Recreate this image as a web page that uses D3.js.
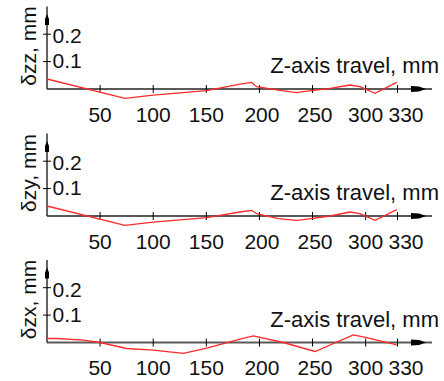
<!DOCTYPE html>
<html>
<head>
<meta charset="utf-8">
<script src="https://cdn.jsdelivr.net/npm/d3@7"></script>
<style>
  html, body { margin: 0; padding: 0; background: #fff; }
  svg { display: block; font-family: "Liberation Sans", Arial, sans-serif; }
</style>
</head>
<body>
<svg id="chart" width="444" height="381"></svg>
<script>
// Z-axis travel positions (mm) and straightness deviations (mm) for each direction
const zzTravel = [0, 73.4, 100, 150.4, 181.7, 192.7, 197.4, 217.8, 235.1, 241.3, 266.5, 285.3, 294.7, 308.8, 329.3];
const zzDev    = [0.0365, -0.034, -0.022, -0.006, 0.018, 0.024, 0.0085, -0.004, -0.013, -0.0097, 0.0024, 0.0146, 0.0085, -0.0158, 0.0243];

const zyTravel = [0, 73.4, 100, 150.4, 181.7, 192.7, 197.4, 217.8, 235.1, 241.3, 266.5, 285.3, 294.7, 308.8, 329.3];
const zyDev    = [0.0365, -0.034, -0.022, -0.006, 0.0146, 0.0207, 0.0085, -0.0097, -0.0158, -0.0134, 0, 0.0146, 0.0085, -0.0158, 0.023];

const zxTravel = [0, 9.1, 34.2, 49.9, 75, 100.1, 128.3, 150.4, 181.7, 194.2, 222.5, 252.3, 288.4, 301, 329.3];
const zxDev    = [0.0146, 0.0146, 0.0085, 0, -0.0219, -0.028, -0.040, -0.0207, 0.0122, 0.0243, 0, -0.0328, 0.028, 0.018, -0.0085];

const xTicks = [50, 100, 150, 200, 250, 300, 330];
const yTicks = [0.1, 0.2];
const yLabels = ["\u03b4zz, mm", "\u03b4zy, mm", "\u03b4zx, mm"];
const xTitle = "Z-axis travel, mm";

const panels = [
  { label: yLabels[0], travel: zzTravel, dev: zzDev, top: 0 },
  { label: yLabels[1], travel: zyTravel, dev: zyDev, top: 127 },
  { label: yLabels[2], travel: zxTravel, dev: zxDev, top: 253.5 }
];

const svg = d3.select("#chart");

const x = d3.scaleLinear().domain([0, 330]).range([47, 397.5]);
const y = d3.scaleLinear().domain([0, 0.2]).range([89, 34.2]);

const axisColor = "#5a5a5a";
const tickLen = 4;

panels.forEach(p => {
  const g = svg.append("g").attr("transform", `translate(0,${p.top})`);

  // horizontal axis line with arrow
  g.append("line")
    .attr("x1", x(0)).attr("x2", 432)
    .attr("y1", y(0)).attr("y2", y(0))
    .attr("stroke", axisColor).attr("stroke-width", 1.8);
  g.append("path")
    .attr("d", `M411,${y(0) - 3} L419,${y(0) - 2.6} L426,${y(0)} L419,${y(0) + 2.6} L411,${y(0) + 3} Z`)
    .attr("fill", "#000");

  // vertical axis line with arrow
  g.append("line")
    .attr("x1", x(0)).attr("x2", x(0))
    .attr("y1", y(0)).attr("y2", 6.5)
    .attr("stroke", "#222").attr("stroke-width", 1.4);
  g.append("path")
    .attr("d", `M${x(0) - 2},25 L${x(0) - 2},19 L${x(0)},14 L${x(0) + 2},19 L${x(0) + 2},25 Z`)
    .attr("fill", "#000");

  // x ticks crossing the axis
  g.selectAll(".xt").data(xTicks).join("line")
    .attr("x1", d => x(d)).attr("x2", d => x(d))
    .attr("y1", y(0) - tickLen).attr("y2", y(0) + tickLen)
    .attr("stroke", "#000").attr("stroke-width", 1);

  g.selectAll(".xl").data(xTicks).join("text")
    .attr("x", (d, i) => x(d) + (i === xTicks.length - 1 ? 8.5 : (d >= 200 && d < 300 ? 2.5 : 0)))
    .attr("y", y(0) + 32.7)
    .attr("text-anchor", "middle")
    .attr("font-size", 21)
    .attr("fill", "#111")
    .text(d => d);

  // y ticks crossing the axis
  g.selectAll(".yt").data(yTicks).join("line")
    .attr("x1", x(0) - tickLen).attr("x2", x(0) + tickLen)
    .attr("y1", d => y(d)).attr("y2", d => y(d))
    .attr("stroke", "#000").attr("stroke-width", 1);

  g.selectAll(".yl").data(yTicks).join("text")
    .attr("x", x(0) + 5.5)
    .attr("y", d => y(d) + (d > 0.15 ? 9 : 6.5))
    .attr("font-size", 21)
    .attr("fill", "#111")
    .text(d => d.toFixed(1));

  // axis titles
  g.append("text")
    .attr("x", 439).attr("y", 73)
    .attr("text-anchor", "end")
    .attr("font-size", 22)
    .attr("fill", "#111")
    .text(xTitle);

  g.append("text")
    .attr("transform", "translate(36,46) rotate(-90)")
    .attr("text-anchor", "middle")
    .attr("font-size", 21)
    .attr("fill", "#111")
    .text(p.label);

  // deviation curve
  const line = d3.line().x(d => x(d[0])).y(d => y(d[1]));
  g.append("path")
    .datum(d3.zip(p.travel, p.dev))
    .attr("d", line)
    .attr("fill", "none")
    .attr("stroke", "#ff2a2a")
    .attr("stroke-width", 1.3);
});
</script>
</body>
</html>
